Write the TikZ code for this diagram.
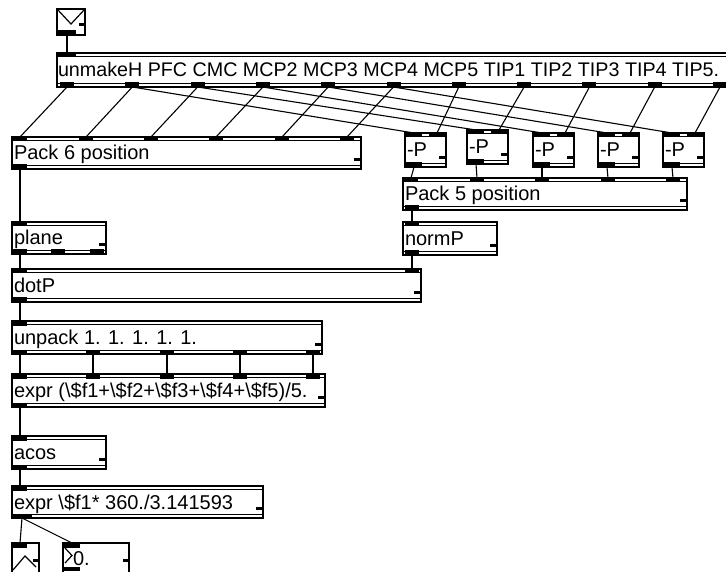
\documentclass[tikz,border=0pt]{standalone}
\usepackage{fontspec}
\setmainfont{Liberation Sans}
\tikzset{
  maxbox/.style={draw, fill=white, line width=1.2pt, inner sep=0pt, outer sep=0pt},
  band/.style={line width=1.2pt},
  cord/.style={line width=1.1pt},
  lbl/.style={font=\fontsize{20}{22}\selectfont, inner sep=0pt, outer sep=0pt},
}
% name, x1, y1, x2, y2, text
\newcommand\maxobj[6]{%
  \node[maxbox, minimum width={(#4-#2)*1pt}, minimum height={(#5-#3)*1pt}, anchor=north west] (#1) at (#2,#3) {};
  \draw[band] (#2,#3+3.5) -- (#4,#3+3.5);
  \draw[band] (#2,#5-3.5) -- (#4,#5-3.5);
  \fill (#4-7,#5-11) rectangle (#4-1.5,#5-8);
  \node[lbl, anchor=base west] (#1-t) at (#2+2,{(#3+#5)/2+7}) {#6};
}
% [half width] name, x centre, y edge
\newcommand\inport[4][7]{\fill (#3-#1,#4) rectangle (#3+#1,#4+4.5); \coordinate (#2) at (#3,#4);}
\newcommand\outport[4][7]{\fill (#3-#1,#4-4.5) rectangle (#3+#1,#4); \coordinate (#2) at (#3,#4);}
\begin{document}
\begin{tikzpicture}[x=1pt,y=-1pt]
\useasboundingbox (0,0) rectangle (726,572);
\clip (0,0) rectangle (726,572);

% message-like icon at top
\node[maxbox, minimum width=28pt, minimum height=26pt, anchor=north west] (env) at (57,9) {};
\draw[band] (57.5,9.5) -- (71,24) -- (84.5,9.5);
\fill (79,23) rectangle (84.5,26.5);
\outport[9]{env-o}{67}{35}

% unmakeH
\maxobj{uh}{57}{53}{800}{87}{\hspace*{-1pt}\fontsize{19.7}{22}\selectfont unmakeH PFC CMC MCP2 MCP3 MCP4 MCP5 TIP1 TIP2 TIP3 TIP4 TIP5.}
\inport[9]{uh-i}{67}{53}
\foreach \i in {1,...,12} {
  \pgfmathsetmacro\xx{67+(\i-1)*65.3}
  \outport{uh-o\i}{\xx}{87}
}

% Pack 6 position
\maxobj{p6}{12}{137}{361}{169}{Pack 6 position}
\foreach \i/\x in {1/20,2/86,3/151,4/216,5/282,6/347} {\inport{p6-i\i}{\x}{137}}
\outport{p6-o1}{20}{169}

% -P boxes
\foreach \k/\xa/\ya in {1/405/133, 2/467/130, 3/533/133, 4/598/133, 5/663/133} {
  \pgfmathsetmacro\xb{\xa+41}
  \pgfmathsetmacro\yb{\ya+34}
  \pgfmathsetmacro\xl{\xa+9}
  \pgfmathsetmacro\xr{\xb-9}
  \maxobj{m\k}{\xa}{\ya}{\xb}{\yb}{-P}
  \inport[8]{m\k-l}{\xl}{\ya}
  \inport[8]{m\k-r}{\xr}{\ya}
  \outport[8]{m\k-o}{\xl}{\yb}
}

% Pack 5 position
\maxobj{p5}{403}{178}{687}{210}{Pack 5 position}
\foreach \i/\x in {1/411,2/477,3/542,4/608,5/673} {\inport{p5-i\i}{\x}{178}}
\outport{p5-o1}{412}{210}

% normP
\maxobj{np}{403}{222}{497}{255}{normP}
\inport{np-i1}{412}{222}
\outport{np-o1}{412}{255}

% plane
\maxobj{pl}{12}{222}{106}{254}{plane}
\inport{pl-i1}{20}{222}
\outport{pl-o1}{20}{254}
\outport{pl-o2}{58}{254}
\outport{pl-o3}{97}{254}

% dotP
\maxobj{dp}{12}{269}{421}{302}{dotP}
\inport{dp-i1}{20}{269}
\inport{dp-i2}{412}{269}
\outport{dp-o1}{20}{302}

% unpack
\maxobj{up}{12}{321}{322}{354}{unpack 1. 1. 1. 1. 1.}
\inport{up-i1}{20}{321}
\foreach \i/\x in {1/20,2/93,3/167,4/240,5/313} {\outport{up-o\i}{\x}{354}}

% expr average
\maxobj{ea}{12}{374}{325}{407}{expr (\textbackslash\$f1+\textbackslash\$f2+\textbackslash\$f3+\textbackslash\$f4+\textbackslash\$f5)/5.}
\foreach \i/\x in {1/20,2/93,3/167,4/240,5/313} {\inport{ea-i\i}{\x}{374}}
\outport{ea-o1}{20}{407}

% acos
\maxobj{ac}{12}{436}{106}{469}{acos}
\inport{ac-i1}{20}{436}
\outport{ac-o1}{20}{469}

% expr degrees
\maxobj{ed}{12}{486}{263}{518}{expr \textbackslash\$f1* 360./3.141593}
\inport{ed-i1}{20}{486}
\outport[10]{ed-o1}{22}{518}

% slider-like display
\node[maxbox, minimum width=27pt, minimum height=30pt, anchor=north west] (sl) at (12,543) {};
\draw[band] (13,570) -- (25,556) -- (36,567);
\fill (33,559) rectangle (38,562);
\inport{sl-i}{20}{543}

% float number box
\node[maxbox, minimum width=66pt, minimum height=30pt, anchor=north west] (fl) at (63,543) {};
\draw[band] (65,548) -- (72,555.5) -- (65,563);
\node[lbl, anchor=base west] (fl-t) at (73,565) {0.};
\fill (123,559) rectangle (128,562);
\inport[8]{fl-i}{72}{543}
\outport[8]{fl-o}{72}{571}

% cords
\draw[cord] (env-o) -- (uh-i);
\foreach \i in {1,...,6} {\draw[cord] (uh-o\i) -- (p6-i\i);}
\foreach \k in {1,...,5} {
  \pgfmathtruncatemacro\a{\k+1}
  \pgfmathtruncatemacro\b{\k+6}
  \draw[cord] (uh-o\a) -- (m\k-l);
  \draw[cord] (uh-o\b) -- (m\k-r);
  \draw[cord] (m\k-o) -- (p5-i\k);
}
\draw[cord] (p6-o1) -- (pl-i1);
\draw[cord] (p5-o1) -- (np-i1);
\draw[cord] (pl-o1) -- (dp-i1);
\draw[cord] (np-o1) -- (dp-i2);
\draw[cord] (dp-o1) -- (up-i1);
\foreach \i in {1,...,5} {\draw[cord] (up-o\i) -- (ea-i\i);}
\draw[cord] (ea-o1) -- (ac-i1);
\draw[cord] (ac-o1) -- (ed-i1);
\draw[cord] (ed-o1) -- (sl-i);
\draw[cord] (ed-o1) -- (fl-i);
\end{tikzpicture}
\end{document}
